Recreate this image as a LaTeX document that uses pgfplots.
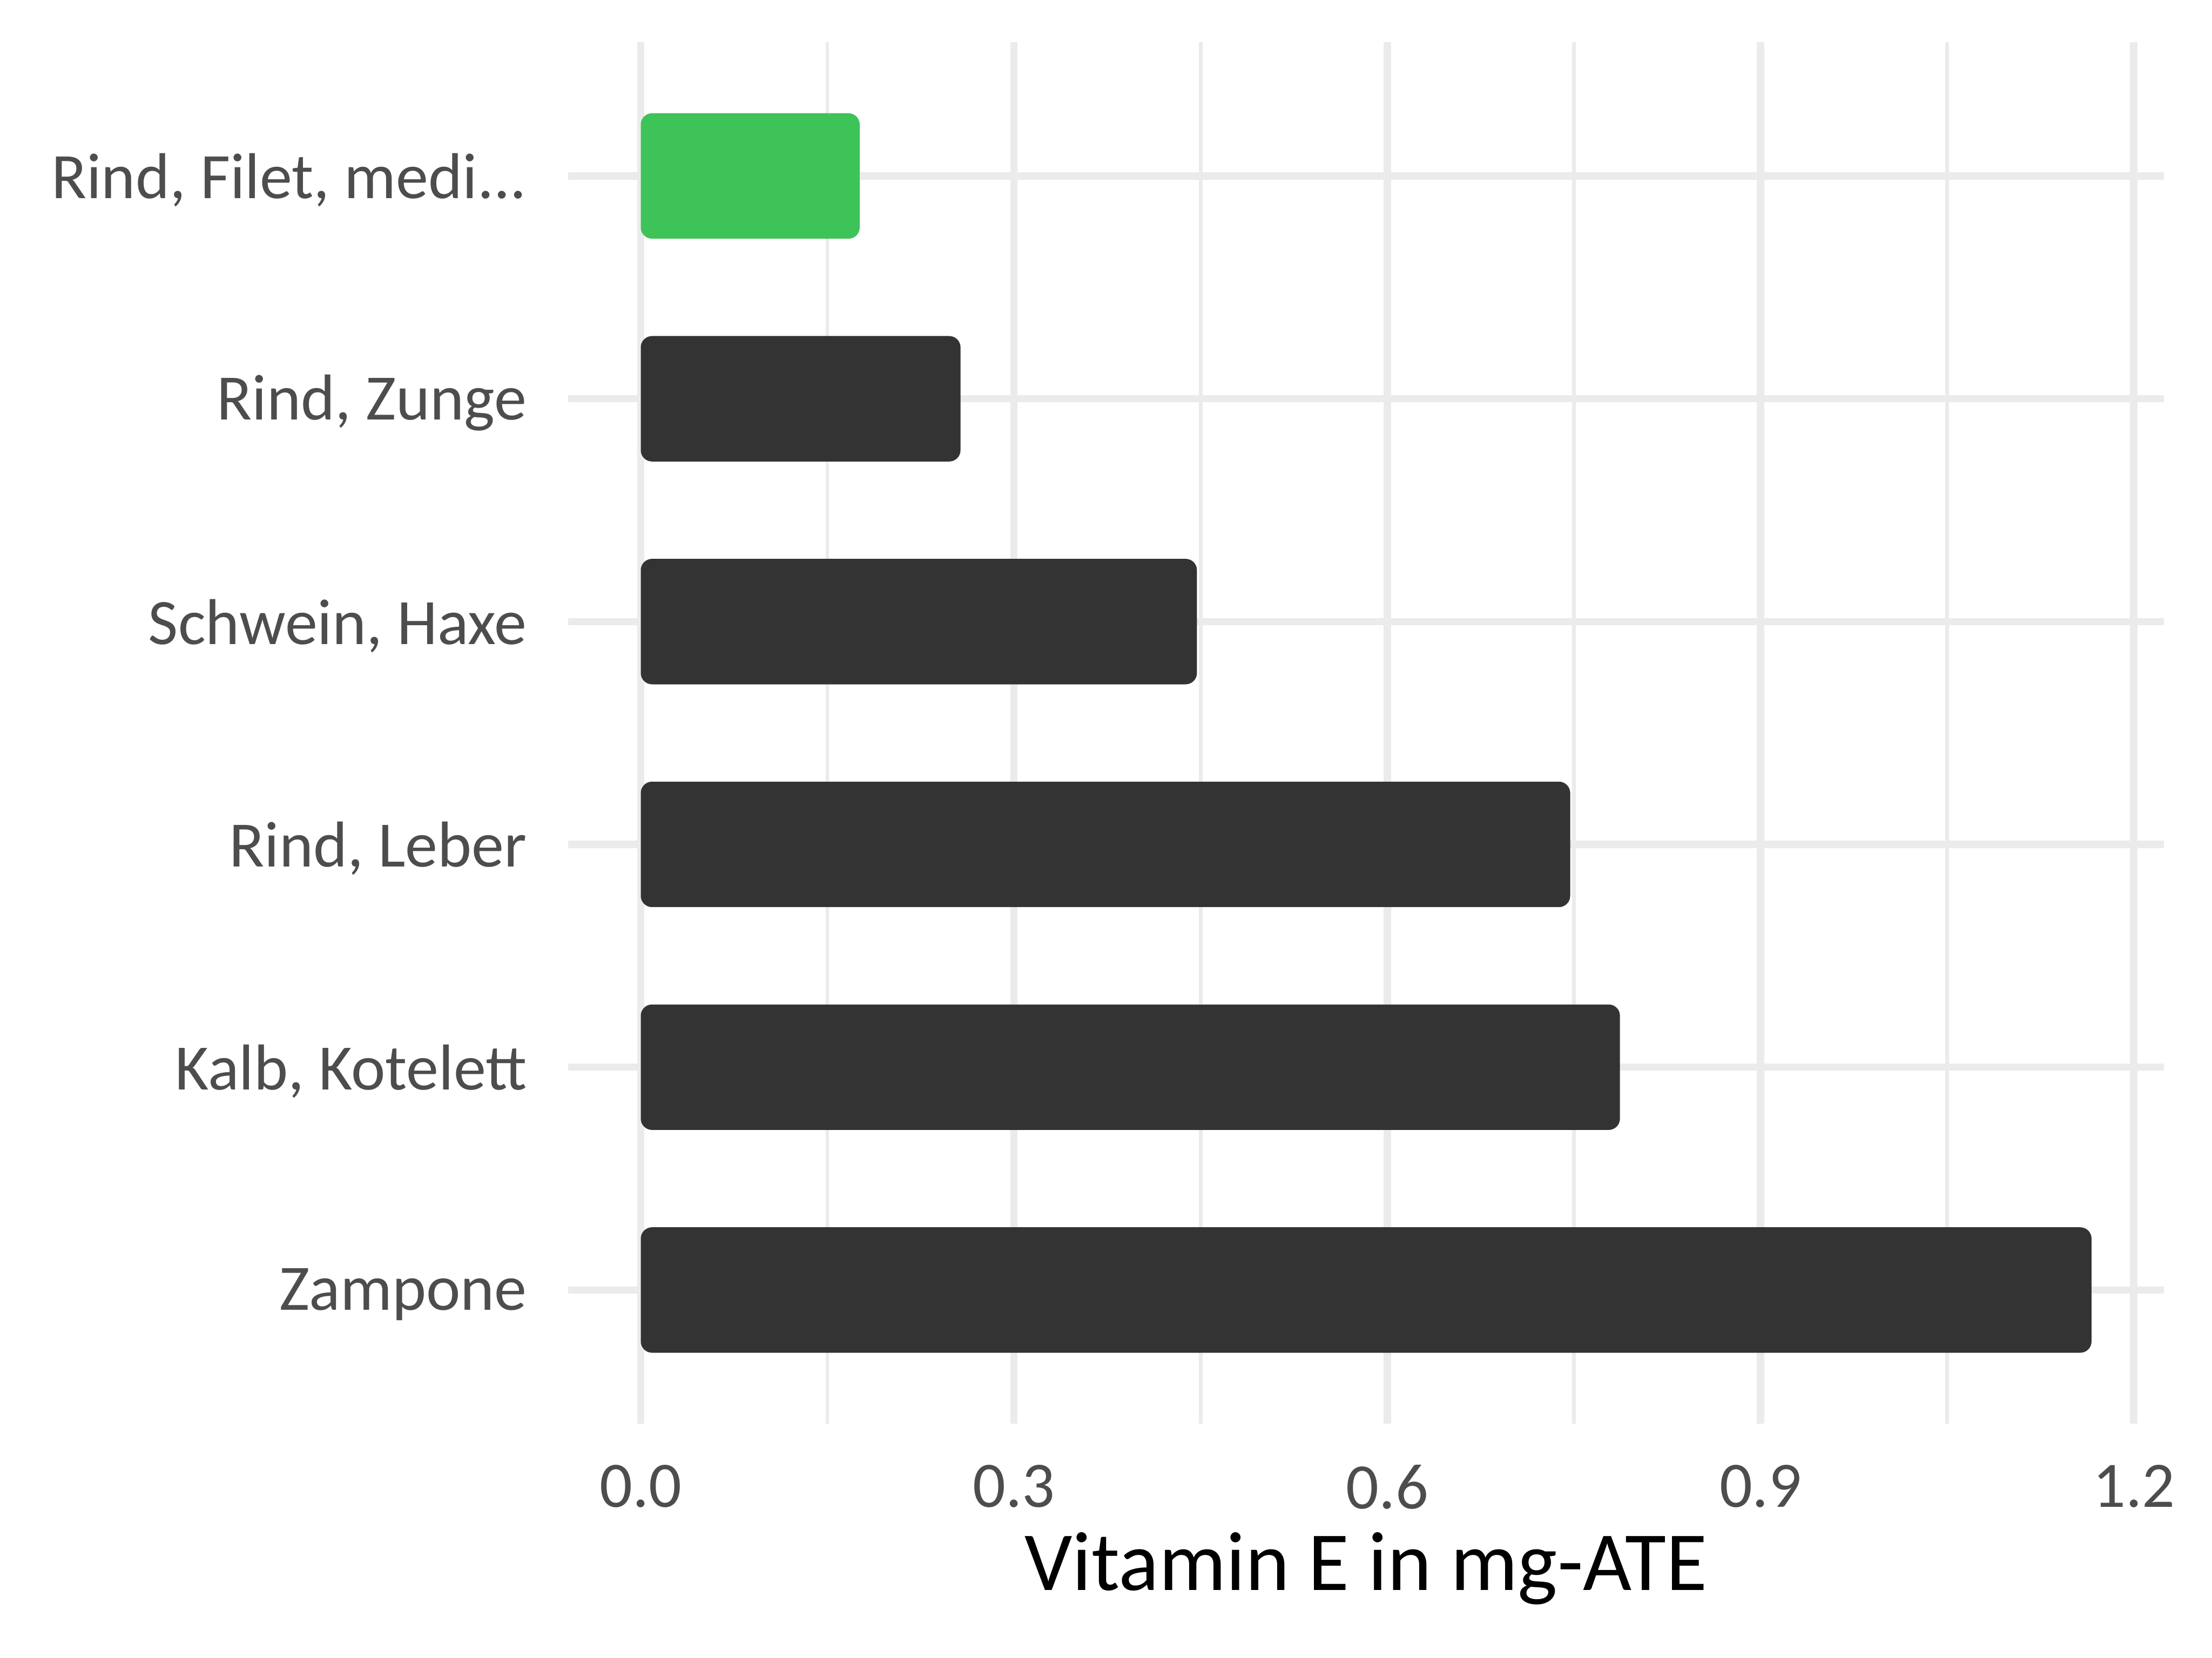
\documentclass[border=0pt]{standalone}
\usepackage{pgfplots}
\pgfplotsset{compat=1.18}
\usepackage{fontspec}
\setmainfont{Carlito}
\definecolor{bardark}{HTML}{333333}
\definecolor{bargreen}{HTML}{3EC359}
\definecolor{gridgray}{HTML}{EBEBEB}
\definecolor{ticktext}{HTML}{4D4D4D}
\begin{document}
\begin{tikzpicture}
\begin{axis}[
  name=ax,
  scale only axis,
  width=565.9pt, height=490pt,
  xmin=-0.0583, xmax=1.2243,
  ymin=0.4, ymax=6.6,
  axis x line*=bottom, axis y line*=left,
  axis line style={draw=none},
  xtick={0,0.3,0.6,0.9,1.2},
  minor xtick={0.15,0.45,0.75,1.05},
  xticklabels={0.0,0.3,0.6,0.9,1.2},
  ytick={1,2,3,4,5,6},
  yticklabels={Zampone,{Kalb, Kotelett},{Rind, Leber},{Schwein, Haxe},{Rind, Zunge},{Rind, Filet, medi{.}{.}{.}}},
  major tick length=0pt, minor tick length=0pt,
  xmajorgrids, xminorgrids, ymajorgrids,
  major grid style={gridgray, line width=2.6pt},
  minor grid style={gridgray, line width=1.3pt},
  ticklabel style={font=\fontsize{23}{27}\selectfont, text=ticktext, inner sep=0pt},
  xticklabel style={anchor=north, yshift=-14.5pt},
  yticklabel style={anchor=east, xshift=-14.5pt, yshift=-1.5pt},
  xlabel={Vitamin E in mg-ATE},
  xlabel style={at={(axis description cs:0.5,0)}, anchor=base, yshift=-59pt, inner sep=0pt, font=\fontsize{29.8}{33}\selectfont, text=black},
  xbar, bar width=44.5pt, bar shift=0pt,
]
\addplot[draw=none, fill=bargreen, rounded corners=4pt] coordinates {(0.176,6)};
\addplot[draw=none, fill=bardark, rounded corners=4pt] coordinates {
  (0.257,5) (0.447,4) (0.747,3) (0.787,2) (1.166,1)
};
\end{axis}
\path[use as bounding box] ([xshift=-201.5pt, yshift=-83pt]ax.south west) rectangle ([xshift=17pt, yshift=15pt]ax.north east);
\end{tikzpicture}
\end{document}
